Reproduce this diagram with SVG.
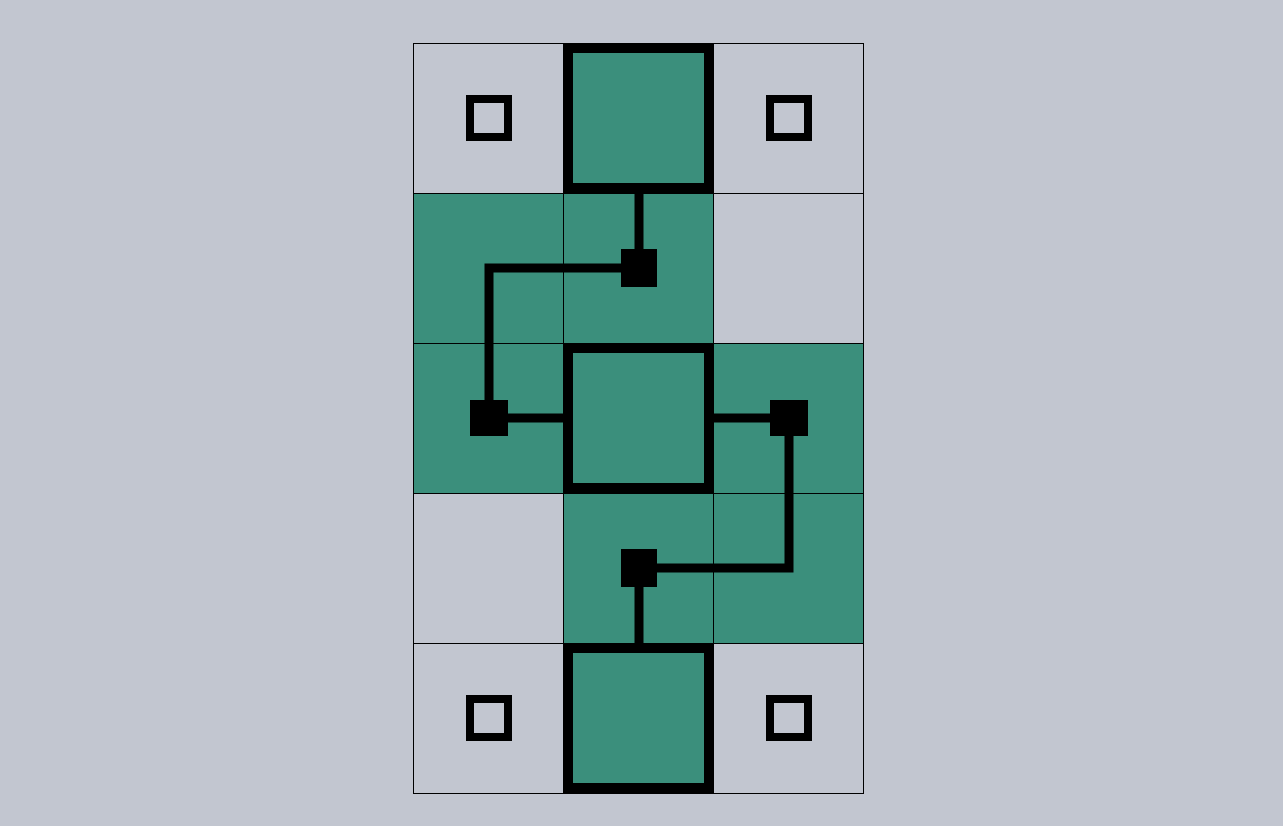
<svg xmlns="http://www.w3.org/2000/svg" width="1283" height="826" viewBox="0 0 1283 826">
<style>
.g{fill:#3b8f7c}
.grid{fill:none;stroke:#000;stroke-width:1}
.box{fill:#3b8f7c;stroke:#000;stroke-width:10}
.port{fill:none;stroke:#000;stroke-width:8}
.hub{fill:#000}
.wire{fill:none;stroke:#000;stroke-width:9;stroke-linejoin:miter;stroke-linecap:butt}
</style>
<rect width="1283" height="826" fill="#c2c6d0"/>
<g id="cells">
<rect class="g" x="563.5" y="43.5" width="150" height="150"/>
<rect class="g" x="413.5" y="193.5" width="300" height="150"/>
<rect class="g" x="413.5" y="343.5" width="450" height="150"/>
<rect class="g" x="563.5" y="493.5" width="300" height="150"/>
<rect class="g" x="563.5" y="643.5" width="150" height="150"/>
</g>
<g id="grid">
<rect class="grid" x="413.5" y="43.5" width="450" height="750"/>
<path class="grid" d="M563.5 43.5V793.5M713.5 43.5V793.5M413.5 193.5H863.5M413.5 343.5H863.5M413.5 493.5H863.5M413.5 643.5H863.5"/>
</g>
<g id="connectors">
<path class="wire" d="M639 193V268"/>
<path class="wire" d="M639 268H489V418"/>
<path class="wire" d="M489 418H563"/>
<path class="wire" d="M713 418H789V568H639"/>
<path class="wire" d="M639 568V643"/>
</g>
<g id="box-top"><rect class="box" x="568" y="48" width="141" height="140"/></g>
<g id="box-mid"><rect class="box" x="568" y="348" width="141" height="140"/></g>
<g id="box-bot"><rect class="box" x="568" y="648" width="141" height="140"/></g>
<g id="port-tl"><rect class="port" x="470" y="99" width="38" height="38"/></g>
<g id="port-tr"><rect class="port" x="770" y="99" width="38" height="38"/></g>
<g id="port-bl"><rect class="port" x="470" y="699" width="38" height="38"/></g>
<g id="port-br"><rect class="port" x="770" y="699" width="38" height="38"/></g>
<g id="hub-1"><rect class="hub" x="621" y="249" width="36" height="38"/></g>
<g id="hub-2"><rect class="hub" x="470" y="400" width="38" height="36"/></g>
<g id="hub-3"><rect class="hub" x="770" y="400" width="38" height="36"/></g>
<g id="hub-4"><rect class="hub" x="621" y="549" width="36" height="38"/></g>
</svg>
